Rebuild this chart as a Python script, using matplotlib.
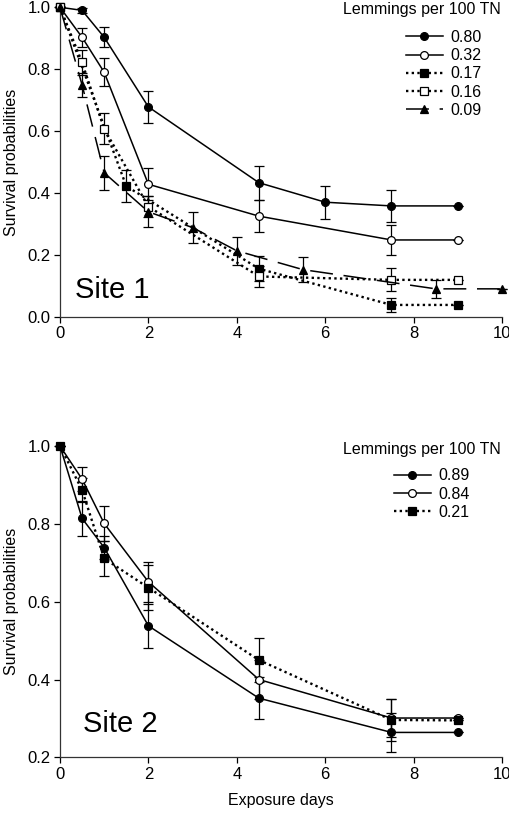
import matplotlib
matplotlib.use("Agg")
import matplotlib.pyplot as plt

plt.rcParams['font.family'] = ['Liberation Sans', 'DejaVu Sans']

# ---------------- Site 1 data ----------------
s1_labels = ["0.80", "0.32", "0.17", "0.16", "0.09"]
s1_x80 = [0, 0.5, 1, 2, 4.5, 6, 7.5, 9]
s1_y80 = [1.0, 0.99, 0.903, 0.678, 0.433, 0.370, 0.358, 0.358]
s1_e80 = [0, 0.008, 0.032, 0.052, 0.055, 0.053, 0.053, 0]

s1_x32 = [0, 0.5, 1, 2, 4.5, 7.5, 9]
s1_y32 = [1.0, 0.903, 0.790, 0.428, 0.325, 0.248, 0.248]
s1_e32 = [0, 0.03, 0.045, 0.052, 0.052, 0.048, 0]

s1_x17 = [0, 1.5, 4.5, 7.5, 9]
s1_y17 = [1.0, 0.422, 0.155, 0.038, 0.038]
s1_e17 = [0, 0.052, 0.04, 0.022, 0]

s1_x16 = [0, 0.5, 1, 2, 4.5, 7.5, 9]
s1_y16 = [1.0, 0.822, 0.607, 0.356, 0.130, 0.119, 0.119]
s1_e16 = [0, 0.04, 0.05, 0.035, 0.035, 0.037, 0]

s1_x09 = [0, 0.5, 1, 2, 3, 4, 5.5, 8.5, 10]
s1_y09 = [1.0, 0.749, 0.465, 0.339, 0.288, 0.213, 0.152, 0.090, 0.090]
s1_e09 = [0, 0.04, 0.055, 0.05, 0.05, 0.045, 0.04, 0.03, 0]

# ---------------- Site 2 data ----------------
s2_labels = ["0.89", "0.84", "0.21"]
s2_x89 = [0, 0.5, 1, 2, 4.5, 7.5, 9]
s2_y89 = [1.0, 0.814, 0.739, 0.538, 0.352, 0.264, 0.264]
s2_e89 = [0, 0.046, 0.03, 0.056, 0.054, 0.05, 0]

s2_x84 = [0, 0.5, 1, 2, 4.5, 7.5, 9]
s2_y84 = [1.0, 0.915, 0.801, 0.651, 0.400, 0.301, 0.301]
s2_e84 = [0, 0.03, 0.044, 0.052, 0.05, 0.05, 0]

s2_x21 = [0, 0.5, 1, 2, 4.5, 7.5, 9]
s2_y21 = [1.0, 0.887, 0.711, 0.636, 0.450, 0.296, 0.295]
s2_e21 = [0, 0.03, 0.045, 0.058, 0.056, 0.055, 0]

x_ticks = [0, 2, 4, 6, 8, 10]
s1_yticks = [0.0, 0.2, 0.4, 0.6, 0.8, 1.0]
s2_yticks = [0.2, 0.4, 0.6, 0.8, 1.0]

SOLID = '-'
DOT = (0, (1, 1.4))
DASH = (0, (15, 7))

fig = plt.figure(figsize=(5.10, 8.16), dpi=100)
ax1 = fig.add_axes([0.1176, 0.6119, 0.8667, 0.3792])
ax2 = fig.add_axes([0.1176, 0.0719, 0.8667, 0.3815])


def series(ax, x, y, e, ls, marker, mfc, ms, label, lw=1.1):
    ax.errorbar(x, y, yerr=e, fmt='none', ecolor='black', elinewidth=0.9,
                capsize=3.8, capthick=0.9, clip_on=False, zorder=2)
    ax.plot(x, y, linestyle=ls, color='black', lw=lw, marker=marker,
            markerfacecolor=mfc, markeredgecolor='black', markeredgewidth=0.9,
            markersize=ms, clip_on=False, label=label, zorder=3)


series(ax1, s1_x80, s1_y80, s1_e80, SOLID, 'o', 'black', 5.6, s1_labels[0])
series(ax1, s1_x32, s1_y32, s1_e32, SOLID, 'o', 'white', 5.6, s1_labels[1])
series(ax1, s1_x17, s1_y17, s1_e17, DOT, 's', 'black', 5.2, s1_labels[2], lw=1.7)
series(ax1, s1_x16, s1_y16, s1_e16, DOT, 's', 'white', 5.2, s1_labels[3], lw=1.7)
series(ax1, s1_x09, s1_y09, s1_e09, DASH, '^', 'black', 6.0, s1_labels[4])

series(ax2, s2_x89, s2_y89, s2_e89, SOLID, 'o', 'black', 5.6, s2_labels[0])
series(ax2, s2_x84, s2_y84, s2_e84, SOLID, 'o', 'white', 5.6, s2_labels[1])
series(ax2, s2_x21, s2_y21, s2_e21, DOT, 's', 'black', 5.2, s2_labels[2], lw=1.7)

for ax, ylim, yt in [(ax1, (0.0, 1.0), s1_yticks), (ax2, (0.2, 1.0), s2_yticks)]:
    ax.set_xlim(0, 10)
    ax.set_ylim(*ylim)
    ax.set_xticks(x_ticks)
    ax.set_yticks(yt)
    ax.set_yticklabels([f"{v:.1f}" for v in yt])
    ax.set_xticklabels([str(v) for v in x_ticks])
    for s in ['top', 'right']:
        ax.spines[s].set_visible(False)
    for s in ['left', 'bottom']:
        ax.spines[s].set_linewidth(0.9)
        ax.spines[s].set_color('#333333')
    ax.tick_params(direction='out', length=4, width=0.9, labelsize=12,
                   colors='black', pad=3)
    ax.set_ylabel("Survival probabilities", fontsize=11.5, labelpad=6)

ax2.set_xlabel("Exposure days", fontsize=11.5, labelpad=8)

ax1.text(0.034, 0.06, "Site 1", transform=ax1.transAxes, fontsize=21,
         ha='left', va='baseline')
ax2.text(0.052, 0.082, "Site 2", transform=ax2.transAxes, fontsize=21,
         ha='left', va='baseline')

fig.text(501 / 510, 1 - 9.5 / 816, "Lemmings per 100 TN", fontsize=11.5,
         ha='right', va='center')
fig.text(501 / 510, 1 - 449.3 / 816, "Lemmings per 100 TN", fontsize=11.5,
         ha='right', va='center')

leg_kw = dict(frameon=False, fontsize=11.5, handlelength=2.3, handletextpad=0.5,
              labelspacing=0.2, borderpad=0, borderaxespad=0, loc='upper left')
ax1.legend(bbox_to_anchor=(406 / 510, 1 - 30 / 816),
           bbox_transform=fig.transFigure, **leg_kw)
ax2.legend(bbox_to_anchor=(394 / 510, 1 - 468.5 / 816),
           bbox_transform=fig.transFigure, **leg_kw)

fig.savefig("out.png", dpi=100)
